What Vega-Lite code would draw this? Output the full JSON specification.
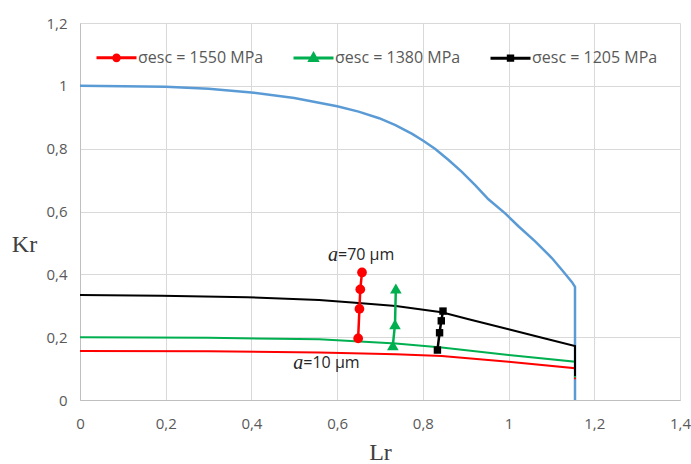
{
  "$schema": "https://vega.github.io/schema/vega-lite/v6.json",
  "width": 600,
  "height": 377,
  "autosize": "none",
  "padding": {"left": 80, "top": 23, "right": 11, "bottom": 64},
  "background": "white",
  "config": {
    "view": {"stroke": null},
    "axis": {
      "grid": true,
      "gridColor": "#D9D9D9",
      "gridWidth": 1,
      "domainColor": "#BFBFBF",
      "domainWidth": 1,
      "ticks": false,
      "labelFont": "Open Sans",
      "labelFontSize": 15,
      "labelColor": "#595959",
      "labelFlush": false,
      "labelOverlap": false,
      "titleFont": "Liberation Serif",
      "titleFontSize": 24,
      "titleFontWeight": "normal",
      "titleColor": "#404040"
    }
  },
  "datasets": {
    "fad": [
      {"x": 0, "y": 1.0, "o": 0},
      {"x": 0.1, "y": 0.999, "o": 1},
      {"x": 0.2, "y": 0.997, "o": 2},
      {"x": 0.3, "y": 0.991, "o": 3},
      {"x": 0.4, "y": 0.979, "o": 4},
      {"x": 0.5, "y": 0.961, "o": 5},
      {"x": 0.6, "y": 0.935, "o": 6},
      {"x": 0.65, "y": 0.918, "o": 7},
      {"x": 0.698, "y": 0.897, "o": 8},
      {"x": 0.736, "y": 0.875, "o": 9},
      {"x": 0.775, "y": 0.847, "o": 10},
      {"x": 0.8, "y": 0.826, "o": 11},
      {"x": 0.829, "y": 0.799, "o": 12},
      {"x": 0.86, "y": 0.764, "o": 13},
      {"x": 0.891, "y": 0.726, "o": 14},
      {"x": 0.922, "y": 0.684, "o": 15},
      {"x": 0.953, "y": 0.639, "o": 16},
      {"x": 0.992, "y": 0.594, "o": 17},
      {"x": 1.023, "y": 0.553, "o": 18},
      {"x": 1.062, "y": 0.505, "o": 19},
      {"x": 1.101, "y": 0.452, "o": 20},
      {"x": 1.128, "y": 0.408, "o": 21},
      {"x": 1.148, "y": 0.375, "o": 22},
      {"x": 1.155, "y": 0.36, "o": 23},
      {"x": 1.155, "y": 0, "o": 24}
    ],
    "curves": [
      {"series": "σesc = 1550 MPa", "x": 0, "y": 0.156, "o": 0},
      {"series": "σesc = 1550 MPa", "x": 0.3, "y": 0.155, "o": 1},
      {"series": "σesc = 1550 MPa", "x": 0.558, "y": 0.151, "o": 2},
      {"series": "σesc = 1550 MPa", "x": 0.737, "y": 0.146, "o": 3},
      {"series": "σesc = 1550 MPa", "x": 0.844, "y": 0.14, "o": 4},
      {"series": "σesc = 1550 MPa", "x": 1.0, "y": 0.122, "o": 5},
      {"series": "σesc = 1550 MPa", "x": 1.155, "y": 0.101, "o": 6},
      {"series": "σesc = 1550 MPa", "x": 1.155, "y": 0.066, "o": 7},
      {"series": "σesc = 1380 MPa", "x": 0, "y": 0.2, "o": 0},
      {"series": "σesc = 1380 MPa", "x": 0.3, "y": 0.198, "o": 1},
      {"series": "σesc = 1380 MPa", "x": 0.558, "y": 0.193, "o": 2},
      {"series": "σesc = 1380 MPa", "x": 0.737, "y": 0.18, "o": 3},
      {"series": "σesc = 1380 MPa", "x": 0.844, "y": 0.167, "o": 4},
      {"series": "σesc = 1380 MPa", "x": 1.0, "y": 0.143, "o": 5},
      {"series": "σesc = 1380 MPa", "x": 1.155, "y": 0.122, "o": 6},
      {"series": "σesc = 1380 MPa", "x": 1.155, "y": 0.072, "o": 7},
      {"series": "σesc = 1205 MPa", "x": 0, "y": 0.334, "o": 0},
      {"series": "σesc = 1205 MPa", "x": 0.19, "y": 0.332, "o": 1},
      {"series": "σesc = 1205 MPa", "x": 0.39, "y": 0.327, "o": 2},
      {"series": "σesc = 1205 MPa", "x": 0.558, "y": 0.318, "o": 3},
      {"series": "σesc = 1205 MPa", "x": 0.635, "y": 0.31, "o": 4},
      {"series": "σesc = 1205 MPa", "x": 0.737, "y": 0.299, "o": 5},
      {"series": "σesc = 1205 MPa", "x": 0.844, "y": 0.279, "o": 6},
      {"series": "σesc = 1205 MPa", "x": 0.907, "y": 0.257, "o": 7},
      {"series": "σesc = 1205 MPa", "x": 1.0, "y": 0.225, "o": 8},
      {"series": "σesc = 1205 MPa", "x": 1.085, "y": 0.196, "o": 9},
      {"series": "σesc = 1205 MPa", "x": 1.155, "y": 0.172, "o": 10},
      {"series": "σesc = 1205 MPa", "x": 1.155, "y": 0.076, "o": 11}
    ],
    "markers": [
      {"series": "σesc = 1550 MPa", "x": 0.649, "y": 0.196},
      {"series": "σesc = 1550 MPa", "x": 0.652, "y": 0.29},
      {"series": "σesc = 1550 MPa", "x": 0.654, "y": 0.352},
      {"series": "σesc = 1550 MPa", "x": 0.658, "y": 0.406},
      {"series": "σesc = 1380 MPa", "x": 0.73, "y": 0.174},
      {"series": "σesc = 1380 MPa", "x": 0.735, "y": 0.241},
      {"series": "σesc = 1380 MPa", "x": 0.737, "y": 0.355},
      {"series": "σesc = 1205 MPa", "x": 0.834, "y": 0.159},
      {"series": "σesc = 1205 MPa", "x": 0.839, "y": 0.214},
      {"series": "σesc = 1205 MPa", "x": 0.843, "y": 0.252},
      {"series": "σesc = 1205 MPa", "x": 0.847, "y": 0.283}
    ],
    "ann": [
      {"x": 0.602, "y": 0.461, "a": "a", "rest": "=70 µm"},
      {"x": 0.521, "y": 0.117, "a": "a", "rest": "=10 µm"}
    ]
  },
  "layer": [
    {
      "data": {"name": "fad"},
      "mark": {"type": "line", "color": "#5B9BD5", "strokeWidth": 2.5},
      "encoding": {
        "x": {
          "field": "x", "type": "quantitative",
          "scale": {"domain": [0, 1.4], "nice": false, "zero": false},
          "axis": {
            "values": [0, 0.2, 0.4, 0.6, 0.8, 1, 1.2, 1.4],
            "labelExpr": "replace(format(datum.value, '~g'), '.', ',')",
            "title": "Lr",
            "labelPadding": 16,
            "titlePadding": 9
          }
        },
        "y": {
          "field": "y", "type": "quantitative",
          "scale": {"domain": [0, 1.2], "nice": false, "zero": false},
          "axis": {
            "values": [0, 0.2, 0.4, 0.6, 0.8, 1, 1.2],
            "labelExpr": "replace(format(datum.value, '~g'), '.', ',')",
            "title": "Kr",
            "labelPadding": 13,
            "titleAngle": 0,
            "titleX": -56,
            "titleY": 221,
            "titleAlign": "center",
            "titleBaseline": "middle"
          }
        },
        "order": {"field": "o", "type": "quantitative"}
      }
    },
    {
      "data": {"name": "curves"},
      "mark": {"type": "line", "strokeWidth": 2},
      "encoding": {
        "x": {"field": "x", "type": "quantitative"},
        "y": {"field": "y", "type": "quantitative"},
        "order": {"field": "o", "type": "quantitative"},
        "color": {
          "field": "series", "type": "nominal",
          "scale": {
            "domain": ["σesc = 1550 MPa", "σesc = 1380 MPa", "σesc = 1205 MPa"],
            "range": ["#FF0000", "#00B050", "#000000"]
          },
          "legend": {
            "title": null,
            "orient": "none",
            "legendX": 15,
            "legendY": 13,
            "direction": "horizontal",
            "padding": 0,
            "symbolSize": 1600,
            "symbolStrokeWidth": 3,
            "labelFont": "Open Sans",
            "labelFontSize": 16,
            "labelColor": "#595959",
            "labelOffset": 0,
            "labelLimit": 250,
            "columnPadding": 23,
            "encode": {
              "symbols": {
                "update": {
                  "shape": {"signal": "datum.index === 0 ? 'M-1,0H1M0.14,0A0.14,0.14,0,1,1,-0.14,0A0.14,0.14,0,1,1,0.14,0Z' : datum.index === 1 ? 'M-1,0H1M0,-0.2L0.18,0.12L-0.18,0.12Z' : 'M-1,0H1M-0.11,-0.11H0.11V0.11H-0.11Z'"},
                  "fill": {"scale": "color", "field": "value"},
                  "stroke": {"scale": "color", "field": "value"},
                  "strokeWidth": {"value": 3},
                  "opacity": {"value": 1}
                }
              }
            }
          }
        }
      }
    },
    {
      "data": {"name": "markers"},
      "mark": {"type": "line", "strokeWidth": 2.5},
      "encoding": {
        "x": {"field": "x", "type": "quantitative"},
        "y": {"field": "y", "type": "quantitative"},
        "order": {"field": "y", "type": "quantitative"},
        "color": {"field": "series", "type": "nominal", "legend": null}
      }
    },
    {
      "data": {"name": "markers"},
      "transform": [{"filter": "datum.series === 'σesc = 1550 MPa'"}],
      "mark": {"type": "point", "filled": true, "opacity": 1, "shape": "circle", "size": 95, "color": "#FF0000"},
      "encoding": {
        "x": {"field": "x", "type": "quantitative"},
        "y": {"field": "y", "type": "quantitative"}
      }
    },
    {
      "data": {"name": "markers"},
      "transform": [{"filter": "datum.series === 'σesc = 1380 MPa'"}],
      "mark": {"type": "point", "filled": true, "opacity": 1, "shape": "triangle-up", "size": 135, "color": "#00B050"},
      "encoding": {
        "x": {"field": "x", "type": "quantitative"},
        "y": {"field": "y", "type": "quantitative"}
      }
    },
    {
      "data": {"name": "markers"},
      "transform": [{"filter": "datum.series === 'σesc = 1205 MPa'"}],
      "mark": {"type": "point", "filled": true, "opacity": 1, "shape": "square", "size": 55, "color": "#000000"},
      "encoding": {
        "x": {"field": "x", "type": "quantitative"},
        "y": {"field": "y", "type": "quantitative"}
      }
    },
    {
      "data": {"name": "ann"},
      "mark": {"type": "text", "font": "Liberation Serif", "fontStyle": "italic", "fontSize": 20, "align": "right", "baseline": "middle", "color": "#262626"},
      "encoding": {
        "x": {"field": "x", "type": "quantitative"},
        "y": {"field": "y", "type": "quantitative"},
        "text": {"field": "a"}
      }
    },
    {
      "data": {"name": "ann"},
      "mark": {"type": "text", "font": "Open Sans", "fontSize": 16, "align": "left", "baseline": "middle", "color": "#262626"},
      "encoding": {
        "x": {"field": "x", "type": "quantitative"},
        "y": {"field": "y", "type": "quantitative"},
        "text": {"field": "rest"}
      }
    }
  ]
}
